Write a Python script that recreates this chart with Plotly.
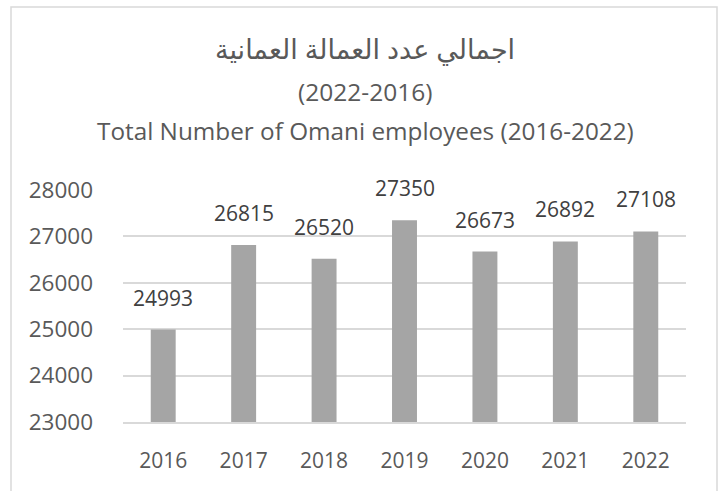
import plotly.graph_objects as go

years = [2016, 2017, 2018, 2019, 2020, 2021, 2022]
employees = [24993, 26815, 26520, 27350, 26673, 26892, 27108]
y_ticks = [23000, 24000, 25000, 26000, 27000, 28000]
title_ar = "اجمالي عدد العمالة العمانية"
title_years = "(2022-2016)"
title_en = "Total Number of Omani employees (2016-2022)"

W, H = 721, 491
L, R, T, B = 123, 686, 190, 422
FONT = "Open Sans, Noto Sans, DejaVu Sans, sans-serif"
TXT = "#595959"

fig = go.Figure()
fig.add_trace(go.Bar(x=years, y=employees, width=0.31,
                     marker=dict(color="#A5A5A5", line=dict(width=0)),
                     hoverinfo="x+y"))

for x, v in zip(years, employees):
    fig.add_annotation(x=x, y=v, text=str(v), showarrow=False, yshift=32,
                       yanchor="middle", font=dict(size=21, color="#404040", family=FONT))

pw = R - L
ph = B - T
def px(xp):
    return (xp - L) / pw
def py(yp):
    return (B - yp) / ph

cx = 365
for txt, yp, sz in [(title_ar, 48, 27), (title_years, 91, 24.5), (title_en, 130, 24.3)]:
    fig.add_annotation(xref="paper", yref="paper", x=px(cx), y=py(yp), text=txt,
                       showarrow=False, xanchor="center", yanchor="middle",
                       font=dict(size=sz, color=TXT, family=FONT))

fig.add_shape(type="rect", xref="paper", yref="paper",
              x0=px(11), x1=px(717), y0=py(520), y1=py(7),
              line=dict(color="#D9D9D9", width=1.5), fillcolor="rgba(0,0,0,0)", layer="below")

fig.update_layout(
    width=W, height=H,
    margin=dict(l=L, r=W - R, t=T, b=H - B, pad=0),
    paper_bgcolor="white", plot_bgcolor="white",
    showlegend=False,
    font=dict(family=FONT, color=TXT, size=21),
)
fig.update_xaxes(type="linear", range=[years[0] - 0.5, years[-1] + 0.5],
                 tickvals=years, ticktext=[str(y) for y in years],
                 showgrid=False, showline=True, linecolor="#D9D9D9", linewidth=1.5,
                 zeroline=False, ticks="", ticklabelstandoff=19,
                 tickfont=dict(size=21, color=TXT, family=FONT))
fig.update_yaxes(range=[23000, 28000], tickvals=y_ticks, ticktext=[str(t) for t in y_ticks],
                 showgrid=True, gridcolor="#D9D9D9", gridwidth=1.5, zeroline=False,
                 showline=False, ticks="", ticklabelstandoff=29,
                 tickfont=dict(size=22.5, color=TXT, family=FONT))

fig.write_html("out.html", config={"displayModeBar": False},
               post_script="document.body.style.margin='0';")
